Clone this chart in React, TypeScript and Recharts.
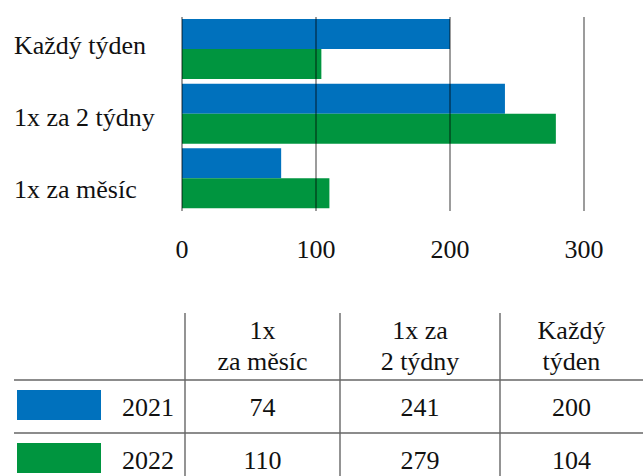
import React from 'react';
import { BarChart, Bar, XAxis, YAxis, ReferenceLine } from 'recharts';

const categories = ['1x za měsíc', '1x za 2 týdny', 'Každý týden'];
const headerLines = [['1x', 'za měsíc'], ['1x za', '2 týdny'], ['Každý', 'týden']];
const values2021 = [74, 241, 200];
const values2022 = [110, 279, 104];
const seriesNames = ['2021', '2022'];
const xTicks = [0, 100, 200, 300];

const BLUE = '#0071BD';
const GREEN = '#00953F';
const FONT = '"Liberation Serif", serif';
const FS = 26;
const TEXT = '#111';
const textStyle = { fontFamily: FONT, fontSize: FS };

const data = categories.map((c, i) => ({ name: c, y2021: values2021[i], y2022: values2022[i] }));

const CatTick = (props: any) => {
  const { y, payload } = props;
  const idx = categories.indexOf(payload.value);
  const rowFromTop = categories.length - 1 - idx;
  return (
    <text x={14} y={y} dy={4.5 + 7.5 * rowFromTop} textAnchor="start" style={textStyle} fill={TEXT}>
      {payload.value}
    </text>
  );
};

const NumTick = (props: any) => {
  const { x, y, payload } = props;
  return (
    <text x={x} y={y} dy={19} textAnchor="middle" style={textStyle} fill={TEXT}>
      {payload.value}
    </text>
  );
};

const colX = [185, 340, 500, 643];
const rowLineY = [380, 433];

export default function App() {
  const seriesVals = [values2021, values2022];
  const colors = [BLUE, GREEN];
  return (
    <div style={{ position: 'absolute', left: 0, top: 0, width: 643, height: 476, background: '#fff', overflow: 'hidden', fontFamily: FONT, color: TEXT }}>
      <BarChart
        width={643}
        height={280}
        data={data}
        layout="vertical"
        margin={{ top: 17, right: 59, left: 0, bottom: 0 }}
        barCategoryGap={2}
        barGap={0}
      >
        <XAxis
          type="number"
          domain={[0, 300]}
          ticks={xTicks}
          axisLine={false}
          tickLine={false}
          tickMargin={22}
          height={69}
          tick={<NumTick />}
          interval={0}
        />
        <YAxis
          type="category"
          dataKey="name"
          reversed
          width={182}
          axisLine={false}
          tickLine={false}
          tick={<CatTick />}
        />
        <Bar dataKey="y2021" fill={BLUE} isAnimationActive={false} />
        <Bar dataKey="y2022" fill={GREEN} isAnimationActive={false} />
        {xTicks.map((t) => (
          <ReferenceLine key={t} x={t} stroke="#000" strokeOpacity={0.6} strokeWidth={1.3} />
        ))}
      </BarChart>
      <svg width={643} height={476} style={{ position: 'absolute', left: 0, top: 0, pointerEvents: 'none' }}>
        {colX.slice(0, 3).map((x) => (
          <line key={x} x1={x} x2={x} y1={313} y2={476} stroke="#666" strokeWidth={1.4} />
        ))}
        {rowLineY.map((y) => (
          <line key={y} x1={14} x2={643} y1={y} y2={y} stroke="#666" strokeWidth={1.4} />
        ))}
        {headerLines.map((lines, i) => {
          const cx = (colX[i] + colX[i + 1]) / 2;
          return (
            <text key={i} textAnchor="middle" style={textStyle} fill={TEXT}>
              <tspan x={cx} y={339}>{lines[0]}</tspan>
              <tspan x={cx} y={370}>{lines[1]}</tspan>
            </text>
          );
        })}
        {seriesNames.map((s, r) => {
          const top = rowLineY[r] + 10;
          const cy = rowLineY[r] + 28;
          return (
            <g key={s}>
              <rect x={17} y={top} width={84} height={30} fill={colors[r]} />
              <text x={174} y={cy + 8} textAnchor="end" style={textStyle} fill={TEXT}>{s}</text>
              {seriesVals[r].map((v, i) => (
                <text key={i} x={(colX[i] + colX[i + 1]) / 2} y={cy + 8} textAnchor="middle" style={textStyle} fill={TEXT}>{v}</text>
              ))}
            </g>
          );
        })}
      </svg>
    </div>
  );
}
